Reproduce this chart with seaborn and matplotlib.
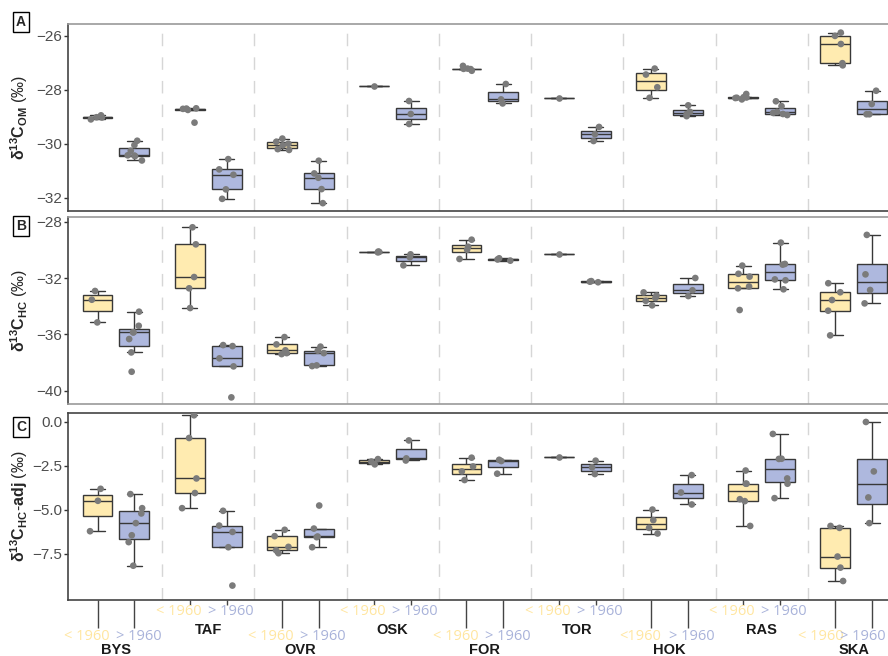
import numpy as np
import pandas as pd
import matplotlib.pyplot as plt
import seaborn as sns

# style first, fonts after (set_theme resets font.family)
sns.set_theme(style="white")
plt.rcParams['font.family'] = ['Liberation Sans', 'DejaVu Sans']
plt.rcParams['mathtext.fontset'] = 'custom'
plt.rcParams['mathtext.rm'] = 'Liberation Sans'
plt.rcParams['mathtext.bf'] = 'Liberation Sans:bold'

sites = ["BYS", "TAF", "OVR", "OSK", "FOR", "TOR", "HOK", "RAS", "SKA"]
periods = ["< 1960", "> 1960"]
pre_labels = ["< 1960", "< 1960", "< 1960", "< 1960", "< 1960", "< 1960", "<1960", "< 1960", "< 1960"]
post_labels = ["> 1960"] * 9

# Panel A: d13C of organic matter, one list per site
om_pre = [
    [-29.10, -29.03, -29.02, -28.95],
    [-29.22, -28.75, -28.71, -28.70, -28.69],
    [-30.23, -30.20, -30.06, -30.00, -29.93, -29.81],
    [-27.86],
    [-27.30, -27.24, -27.23, -27.22, -27.12],
    [-28.30],
    [-28.30, -27.91, -27.44, -27.22],
    [-28.36, -28.31, -28.30, -28.29, -28.28, -28.16],
    [-27.10, -27.02, -26.31, -26.01, -25.89],
]
om_post = [
    [-30.62, -30.46, -30.44, -30.43, -30.26, -30.05, -29.89],
    [-32.04, -31.69, -31.15, -30.95, -30.57],
    [-32.20, -31.68, -31.26, -31.10, -30.63],
    [-29.27, -28.90, -28.42],
    [-28.51, -28.36, -27.79],
    [-29.90, -29.65, -29.38],
    [-28.98, -28.90, -28.82, -28.58],
    [-28.94, -28.90, -28.86, -28.82, -28.61, -28.43],
    [-28.91, -28.91, -28.53, -28.04],
]

# Panel B: d13C of hydrocarbons
hc_pre = [
    [-35.15, -33.54, -32.92],
    [-34.13, -32.73, -31.93, -29.61, -28.40],
    [-37.40, -37.33, -37.13, -36.71, -36.19],
    [-30.18, -30.15, -30.12],
    [-30.65, -29.99, -29.78, -29.28],
    [-30.29],
    [-33.94, -33.62, -33.42, -33.24, -33.02],
    [-34.27, -32.73, -32.60, -31.90, -31.70, -31.12],
    [-36.07, -34.32, -33.56, -33.01, -32.37],
]
hc_post = [
    [-38.65, -37.28, -36.33, -35.86, -35.85, -35.39, -34.39],
    [-40.47, -38.27, -37.70, -36.83, -36.76],
    [-38.25, -38.20, -37.33, -37.16, -36.87],
    [-31.10, -30.53, -30.32],
    [-30.77, -30.68, -30.60],
    [-32.30, -32.26, -32.22],
    [-33.28, -32.87, -32.00],
    [-32.80, -32.16, -32.10, -31.05, -31.00, -29.49],
    [-33.80, -32.85, -31.74, -28.94],
]

# Panel C: adjusted hydrocarbon values
adj_pre = [
    [-6.21, -4.48, -3.80],
    [-4.90, -4.04, -3.21, -0.91, 0.38],
    [-7.46, -7.29, -7.10, -6.49, -6.13],
    [-2.41, -2.25, -2.11],
    [-3.30, -2.81, -2.53, -2.03],
    [-2.00],
    [-6.34, -6.02, -5.58, -4.98],
    [-5.91, -4.50, -4.39, -3.51, -3.51, -2.76],
    [-9.04, -8.28, -7.65, -6.02, -5.91],
]
adj_post = [
    [-8.17, -6.83, -6.44, -5.75, -5.20, -4.90, -4.10],
    [-9.30, -7.12, -6.25, -5.89, -5.05],
    [-7.12, -6.55, -6.51, -6.06, -4.75],
    [-2.19, -2.07, -1.05],
    [-2.94, -2.22, -2.15],
    [-2.96, -2.58, -2.20],
    [-4.69, -4.01, -3.02],
    [-4.33, -3.51, -3.21, -2.10, -2.09, -0.68],
    [-5.75, -4.29, -2.81, 0.00],
]

ylabels = [r'$\mathbf{δ^{13}C_{OM}}$ (‰)',
           r'$\mathbf{δ^{13}C_{HC}}$ (‰)',
           r'$\mathbf{δ^{13}C_{HC}}$-$\mathbf{adj}$ (‰)']
yticks = [[-26, -28, -30, -32], [-28, -32, -36, -40], [0.0, -2.5, -5.0, -7.5]]
ylims = [(-32.49, -25.57), (-40.94, -27.67), (-10.12, 0.51)]
panel_letters = ["A", "B", "C"]

yellow = "#FFEBB0"
blue = "#AEB8DE"
yellow_txt = "#FFE6A0"
blue_txt = "#A9B3DA"


def to_long(pre, post):
    rows = []
    for site, a, b in zip(sites, pre, post):
        rows += [(site, periods[0], v) for v in a]
        rows += [(site, periods[1], v) for v in b]
    return pd.DataFrame(rows, columns=["site", "period", "value"])


panels = [to_long(om_pre, om_post), to_long(hc_pre, hc_post), to_long(adj_pre, adj_post)]

W, H = 888, 656
fig = plt.figure(figsize=(W / 100, H / 100), dpi=100)
# axes boxes in pixels: (top, bottom)
boxes = [(24, 211), (217, 404), (413, 600)]
letter_y = [22, 226, 427]
left, right = 68, 888

np.random.seed(7)
for k, df in enumerate(panels):
    top, bot = boxes[k]
    ax = fig.add_axes([left / W, 1 - bot / H, (right - left) / W, (bot - top) / H])

    for m in range(len(sites) - 1):
        ax.axvline(m + 0.5, color="#d6d6d6", lw=1, ls=(0, (9, 8)), zorder=0)

    sns.boxplot(data=df, x="site", y="value", hue="period", order=sites,
                hue_order=periods, palette=[yellow, blue], saturation=1,
                width=0.8, gap=0.19, showfliers=False, linewidth=1,
                linecolor="#383838", legend=False, ax=ax)
    sns.stripplot(data=df, x="site", y="value", hue="period", order=sites,
                  hue_order=periods, palette=["#7b7b7b", "#7b7b7b"],
                  dodge=True, jitter=0.17, size=4.8, linewidth=0,
                  legend=False, ax=ax, zorder=3)

    ax.set_xlim(-0.52, 8.37)
    ax.set_ylim(*ylims[k])
    ax.set_yticks(yticks[k])
    if k == 2:
        ax.set_yticklabels(["0.0", "−2.5", "−5.0", "−7.5"])
    ax.tick_params(axis="y", left=True, length=3, width=1, color="#333333",
                   labelsize=11, labelcolor="#4d4d4d", pad=1)
    ax.set_xlabel("")
    ax.set_ylabel(ylabels[k], fontsize=11.5)
    ax.yaxis.set_label_coords(-0.046, 0.5)

    for side in ["left", "bottom", "top"]:
        ax.spines[side].set_visible(True)
        ax.spines[side].set_linewidth(1.2)
        ax.spines[side].set_color("#444444")
    ax.spines["right"].set_visible(False)
    if k < 2:
        ax.spines["top"].set_color("#9a9a9a")
    if k == 1:
        ax.spines["bottom"].set_color("#9a9a9a")

    fig.text(21 / W, 1 - letter_y[k] / H, panel_letters[k], fontsize=10,
             fontweight="bold", ha="center", va="center",
             bbox=dict(boxstyle="square,pad=0.2", fc="white", ec="black", lw=1))

    if k < 2:
        ax.set_xticks([])
    else:
        pos = []
        for i in range(len(sites)):
            pos += [i - 0.2, i + 0.2]
        ax.set_xticks(pos)
        ax.set_xticklabels([])
        ax.tick_params(axis="x", bottom=True, width=1, color="#444444")
        for j, tick in enumerate(ax.xaxis.get_major_ticks()):
            tick.tick1line.set_markersize(20 if (j // 2) % 2 == 0 else 3.5)

        tr = ax.get_xaxis_transform()
        for i, site in enumerate(sites):
            low = i % 2 == 0
            y_lab = -0.195 if low else -0.064
            y_name = -0.232 if low else -0.122
            # last pair is squeezed against the right edge, as in the original
            dx_pre, dx_post = (-0.36, 0.10) if i == len(sites) - 1 else (-0.32, 0.245)
            ax.text(i + dx_pre, y_lab, pre_labels[i], transform=tr, ha="center",
                    va="center", fontsize=10.5, color=yellow_txt, family="Open Sans")
            ax.text(i + dx_post, y_lab, post_labels[i], transform=tr, ha="center",
                    va="center", fontsize=10.5, color=blue_txt, family="Open Sans")
            ax.text(i, y_name, site, transform=tr, ha="center", va="top",
                    fontsize=10.5, fontweight="bold", color="#1a1a1a")

fig.savefig("out.png", dpi=100)
plt.close(fig)
